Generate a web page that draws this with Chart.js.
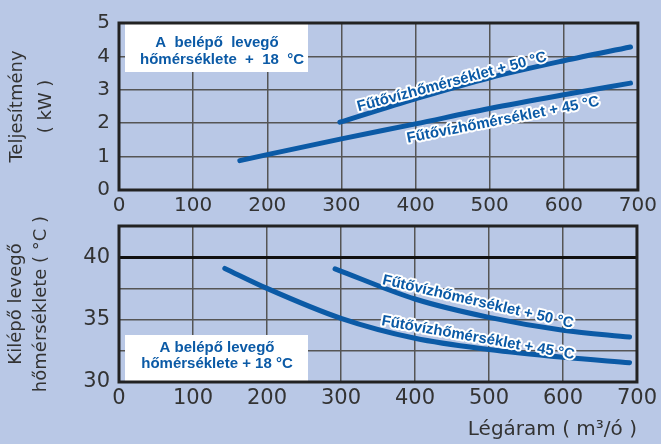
<!DOCTYPE html>
<html><head><meta charset="utf-8">
<script src="https://cdn.jsdelivr.net/npm/chart.js@4"></script>
<style>
html,body{margin:0;padding:0;background:#b9c8e6;width:661px;height:444px;overflow:hidden}
#c1{position:absolute;left:0;top:0}
#c2{position:absolute;left:0;top:204px}
</style></head><body>
<canvas id="c1" width="661" height="215"></canvas>
<canvas id="c2" width="661" height="240"></canvas>
<script>
// ---- data ----
const xTickValues = [0, 100, 200, 300, 400, 500, 600, 700];
const powerTicks = [0, 1, 2, 3, 4, 5];
const tempTickLabels = [30, 35, 40];

const powerX50 = [298, 400, 500, 600, 690];
const powerY50 = [2.03, 2.73, 3.36, 3.87, 4.28];
const powerX45 = [163, 200, 300, 400, 500, 600, 690];
const powerY45 = [0.88, 1.06, 1.53, 1.98, 2.44, 2.85, 3.2];

const tempX50 = [292, 400, 500, 600, 690];
const tempY50 = [39.07, 36.65, 35.18, 34.15, 33.6];
const tempX45 = [143, 200, 300, 400, 500, 600, 690];
const tempY45 = [39.1, 37.5, 35.1, 33.5, 32.6, 31.98, 31.55];

const label50 = 'Fűtővízhőmérséklet + 50 °C';
const label45 = 'Fűtővízhőmérséklet + 45 °C';
const inletLine1 = 'A belépő levegő';
const inletLine2 = 'hőmérséklete + 18 °C';

// ---- styles ----
const BLUE = '#0b5aa6';
const TXT = '#333';
const GRID = '#555';
const FONT = 'DejaVu Sans';
const LFONT = 'Liberation Sans';

function pts(xs, ys){ return xs.map((x,i)=>({x, y: ys[i]})); }
function ds(xs, ys){
  return {data: pts(xs, ys), borderColor: BLUE, borderWidth: 5, pointRadius: 0,
    borderCapStyle: 'round', borderJoinStyle: 'round', fill: false,
    cubicInterpolationMode: 'monotone'};
}
function haloText(ctx, text, x, y, angleDeg, font){
  ctx.save();
  ctx.translate(x, y);
  ctx.rotate(angleDeg * Math.PI / 180);
  ctx.font = font;
  ctx.textAlign = 'center';
  ctx.textBaseline = 'middle';
  ctx.lineJoin = 'round';
  ctx.strokeStyle = '#fff';
  ctx.lineWidth = 4;
  ctx.strokeText(text, 0, 0);
  ctx.fillStyle = BLUE;
  ctx.fillText(text, 0, 0);
  ctx.restore();
}
function makePlugin(cfg){
  return {
    id: 'deco',
    beforeDatasetsDraw(chart){
      const ctx = chart.ctx, a = chart.chartArea;
      ctx.save();
      ctx.fillStyle = '#fff';
      const b = cfg.box;
      ctx.fillRect(a.left + b[0], a.top + b[1], b[2], b[3]);
      ctx.restore();
    },
    afterDraw(chart){
      const ctx = chart.ctx, a = chart.chartArea;
      ctx.save();
      ctx.fillStyle = BLUE;
      ctx.textAlign = 'center';
      ctx.textBaseline = 'middle';
      ctx.font = cfg.inletFont;
      cfg.inlet.forEach(t => ctx.fillText(t[0], a.left + t[1], a.top + t[2]));
      ctx.restore();
      cfg.labels.forEach(l => haloText(ctx, l[0], a.left + l[1], a.top + l[2], l[3], 'bold 15px "' + LFONT + '"'));
      ctx.save();
      ctx.strokeStyle = '#222';
      ctx.lineWidth = 3;
      ctx.strokeRect(a.left, a.top, a.right - a.left, a.bottom - a.top);
      ctx.restore();
    }
  };
}
function xScale(fontSize, height, title){
  const s = {type: 'linear', min: 0, max: 700,
    afterBuildTicks: sc => { sc.ticks = xTickValues.map(v => ({value: v})); },
    ticks: {color: TXT, font: {family: FONT, size: fontSize}, padding: 4, maxRotation: 0, autoSkip: false},
    grid: {color: GRID, lineWidth: 1.5, drawTicks: false},
    border: {display: false},
    afterFit: sc => { sc.height = height; }};
  if (title) s.title = title;
  return s;
}

// ---- top chart: power ----
new Chart(document.getElementById('c1'), {
  type: 'line',
  data: {datasets: [ds(powerX50, powerY50), ds(powerX45, powerY45)]},
  options: {
    responsive: false, animation: false, devicePixelRatio: 1,
    layout: {padding: {top: 23, right: 20, left: 0, bottom: 0}},
    plugins: {legend: {display: false}, tooltip: {enabled: false}},
    scales: {
      x: xScale(20, 25),
      y: {min: 0, max: 5,
        afterBuildTicks: sc => { sc.ticks = powerTicks.map(v => ({value: v})); },
        ticks: {color: TXT, font: {family: FONT, size: 20}, padding: 9},
        grid: {color: GRID, lineWidth: 1.5, drawTicks: false},
        border: {display: false},
        title: {display: true, text: ['Teljesítmény', '( kW )'], color: TXT,
          font: {family: FONT, size: 18, lineHeight: 1.6}, padding: {top: 3, bottom: 0}},
        afterFit: sc => { sc.width = 119; }}
    }
  },
  plugins: [makePlugin({
    box: [6, 0, 183, 49],
    inletFont: 'bold 15px "' + LFONT + '"',
    inlet: [['A  belépő  levegő', 98, 20], ['hőmérséklete  +  18  °C', 103, 37]],
    labels: [[label50, 333, 59, -15], [label45, 384, 97, -11]]
  })]
});

// ---- bottom chart: outlet temperature ----
new Chart(document.getElementById('c2'), {
  type: 'line',
  data: {datasets: [ds(tempX50, tempY50), ds(tempX45, tempY45)]},
  options: {
    responsive: false, animation: false, devicePixelRatio: 1,
    layout: {padding: {top: 22, right: 20, left: 0, bottom: 0}},
    plugins: {legend: {display: false}, tooltip: {enabled: false}},
    scales: {
      x: xScale(21, 62, {display: true, text: 'Légáram ( m³/ó )', align: 'end', color: TXT,
          font: {family: FONT, size: 20, lineHeight: 1.2}, padding: {top: 0, bottom: 2}}),
      y: {min: 30, max: 42.5,
        ticks: {stepSize: 1.25, color: TXT, font: {family: FONT, size: 21}, padding: 9,
          callback: v => tempTickLabels.includes(v) ? String(v) : ''},
        grid: {color: c => c.tick && c.tick.value === 40 ? '#111' : GRID,
               lineWidth: c => c.tick && c.tick.value === 40 ? 3 : 1.5, drawTicks: false},
        border: {display: false},
        title: {display: true, text: ['Kilépő levegő', 'hőmérséklete ( °C )'], color: TXT,
          font: {family: FONT, size: 18, lineHeight: 1.4}, padding: {top: 4, bottom: 0}},
        afterFit: sc => { sc.width = 119; }}
    }
  },
  plugins: [makePlugin({
    box: [6, 109, 183, 47],
    inletFont: 'bold 15px "' + LFONT + '"',
    inlet: [[inletLine1, 98, 122], [inletLine2, 98, 138]],
    labels: [[label50, 359, 76, 13], [label45, 359, 112, 10]]
  })]
});
</script>
</body></html>
